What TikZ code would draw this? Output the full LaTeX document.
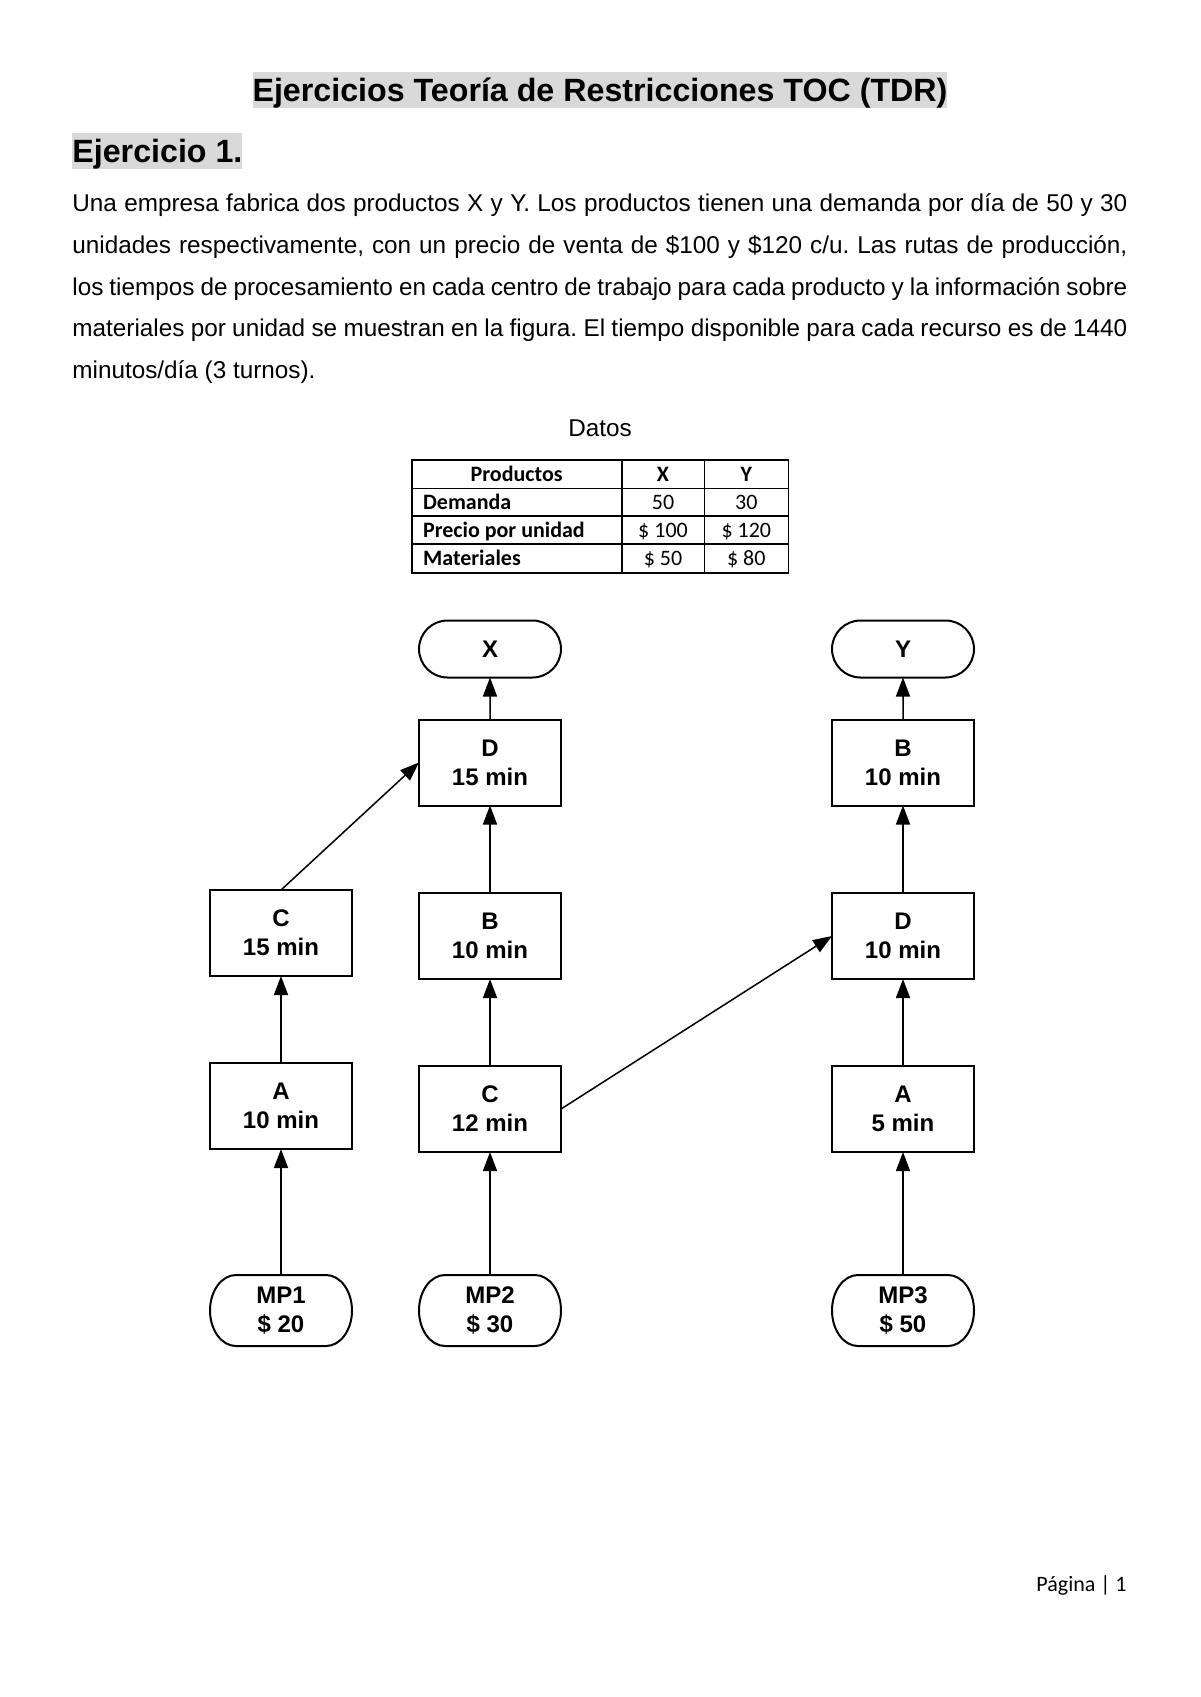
\documentclass[tikz,border=0pt]{standalone}
\usepackage{fontspec}
\setmainfont{Liberation Sans}
\newfontfamily\calibri{Carlito}
\usetikzlibrary{shapes.misc,arrows.meta}
\definecolor{hl}{RGB}{217,217,217}
\frenchspacing
\newcommand\diagfont{\fontsize{12}{14.5}\selectfont\bfseries}
\newcommand\bodyfont{\fontsize{12.15}{20.8}\selectfont}
\newcommand\tabfont{\calibri\fontsize{11}{13}\selectfont}
\newcommand\jline[1]{\makebox[527.5pt][s]{#1}}
\newcommand\mpoutline[1]{\draw[line width=1pt] ([xshift=13pt]#1.north west) -- ([xshift=-13pt]#1.north east) arc[start angle=90,end angle=-90,x radius=13pt,y radius=17.75pt] -- ([xshift=13pt]#1.south west) arc[start angle=270,end angle=90,x radius=13pt,y radius=17.75pt] -- cycle;}
\begin{document}
\begin{tikzpicture}[x=0.5pt,y=-0.5pt,
  box/.style={draw, line width=1pt, minimum width=71pt, minimum height=43pt, inner sep=0pt, outer sep=0pt, align=center, font=\diagfont},
  term/.style={rounded rectangle, draw, line width=1pt, minimum width=71pt, minimum height=28.5pt, inner sep=0pt, outer sep=0pt, font=\diagfont},
  mpnode/.style={minimum width=71pt, minimum height=35.5pt, inner sep=0pt, outer sep=0pt, align=center, font=\diagfont},
  conn/.style={line width=0.75pt, -{Triangle[length=9.5pt,width=7pt]}},
  tbl/.style={line width=0.8pt},
  tcell/.style={anchor=base, inner sep=0pt, font=\tabfont},
  tlab/.style={anchor=base west, inner sep=0pt, font=\tabfont\bfseries},
  bline/.style={anchor=base west, inner sep=0pt, font=\bodyfont},
  hlbox/.style={fill=hl, inner xsep=0pt, inner ysep=0pt, text height=14.5pt, text depth=3.5pt, font=\fontsize{16.1}{19}\selectfont\bfseries}
]
\useasboundingbox (0,0) rectangle (1200,1697);

% Headings
\node[hlbox, anchor=base] (title) at (600,101) {Ejercicios Teoría de Restricciones TOC (TDR)};
\node[hlbox, anchor=base west] (ej) at (72,162) {Ejercicio 1.};

% Body text
\node[bline] (l1) at (72,211.7) {\jline{Una empresa fabrica dos productos X y Y. Los productos tienen una demanda por día de 50 y 30}};
\node[bline] (l2) at (72,253.3) {\jline{unidades respectivamente, con un precio de venta de \$100 y \$120 c/u. Las rutas de producción,}};
\node[bline] (l3) at (72,295) {\jline{los tiempos de procesamiento en cada centro de trabajo para cada producto y la información sobre}};
\node[bline] (l4) at (72,336.7) {\jline{materiales por unidad se muestran en la figura. El tiempo disponible para cada recurso es de 1440}};
\node[bline] (l5) at (72,378.3) {minutos/día (3 turnos).};

% Datos table
\node[anchor=base, inner sep=0pt, font=\bodyfont] (datos) at (600,436) {Datos};
\draw[tbl] (411.7,460) rectangle (788.3,572.7);
\draw[tbl] (411.7,488.3) -- (788.3,488.3);
\draw[tbl] (411.7,516) -- (788.3,516);
\draw[tbl] (411.7,544) -- (788.3,544);
\draw[tbl] (621.7,460) -- (621.7,572.7);
\draw[tbl] (704.3,460) -- (704.3,572.7);
\node[tcell, font=\tabfont\bfseries] (hP) at (516.7,481.7) {Productos};
\node[tcell, font=\tabfont\bfseries] (hX) at (663,481.7) {X};
\node[tcell, font=\tabfont\bfseries] (hY) at (746.3,481.7) {Y};
\node[tlab] (rD) at (422.7,509.3) {Demanda};
\node[tcell] (dX) at (663,509.3) {50};
\node[tcell] (dY) at (746.3,509.3) {30};
\node[tlab] (rP) at (422.7,537.3) {Precio por unidad};
\node[tcell] (pX) at (663,537.3) {\$ 100};
\node[tcell] (pY) at (746.3,537.3) {\$ 120};
\node[tlab] (rM) at (422.7,565.7) {Materiales};
\node[tcell] (mX) at (663,565.7) {\$ 50};
\node[tcell] (mY) at (746.3,565.7) {\$ 80};

% Diagram nodes
\node[term] (xt) at (490,649) {X};
\node[term] (yt) at (903,649) {Y};
\node[box] (d15) at (490,762.5) {D\\15 min};
\node[box] (b10r) at (903,762.5) {B\\10 min};
\node[box] (c15) at (281,933) {C\\15 min};
\node[box] (b10m) at (490,936) {B\\10 min};
\node[box] (d10r) at (903,936) {D\\10 min};
\node[box] (a10) at (281,1106) {A\\10 min};
\node[box] (c12) at (490,1109) {C\\12 min};
\node[box] (a5) at (903,1109) {A\\5 min};
\node[mpnode] (mp1) at (281,1310.5) {MP1\\\$ 20};
\node[mpnode] (mp2) at (490,1310.5) {MP2\\\$ 30};
\node[mpnode] (mp3) at (903,1310.5) {MP3\\\$ 50};
\mpoutline{mp1}
\mpoutline{mp2}
\mpoutline{mp3}

% Connectors
\draw[conn] (mp1) -- (a10);
\draw[conn] (a10) -- (c15);
\draw[conn] (c15.north) -- (d15.west);
\draw[conn] (mp2) -- (c12);
\draw[conn] (c12) -- (b10m);
\draw[conn] (b10m) -- (d15);
\draw[conn] (d15) -- (xt);
\draw[conn] (c12.east) -- (d10r.west);
\draw[conn] (mp3) -- (a5);
\draw[conn] (a5) -- (d10r);
\draw[conn] (d10r) -- (b10r);
\draw[conn] (b10r) -- (yt);

% Footer
\node[anchor=base east, inner sep=0pt, font=\calibri\fontsize{11}{13}\selectfont] (foot) at (1127,1591) {Página | 1};
\end{tikzpicture}
\end{document}
